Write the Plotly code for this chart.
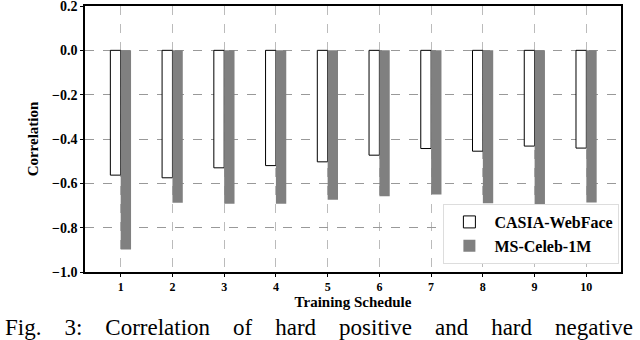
import plotly.graph_objects as go

schedules = [1, 2, 3, 4, 5, 6, 7, 8, 9, 10]
casia = [-0.563, -0.575, -0.530, -0.520, -0.503, -0.473, -0.443, -0.455, -0.432, -0.441]
msceleb = [-0.898, -0.688, -0.692, -0.692, -0.674, -0.658, -0.650, -0.690, -0.700, -0.686]
y_ticks = [0.2, 0.0, -0.2, -0.4, -0.6, -0.8, -1.0]

serif = "Liberation Serif, Times New Roman, serif"

fig = go.Figure()
fig.add_trace(go.Bar(
    x=schedules, y=casia, name="<b>CASIA-WebFace</b>",
    marker=dict(color="white", line=dict(color="black", width=1)),
))
fig.add_trace(go.Bar(
    x=schedules, y=msceleb, name="<b>MS-Celeb-1M</b>",
    marker=dict(color="#808080", line=dict(width=0)),
))

fig.update_layout(
    width=640, height=340,
    margin=dict(l=85, r=19, t=6, b=68),
    paper_bgcolor="white", plot_bgcolor="white",
    barmode="group", bargap=0.6, bargroupgap=0,
    font=dict(family=serif, color="black"),
    showlegend=True,
    legend=dict(
        x=0.997, y=0.03, xanchor="right", yanchor="bottom",
        bgcolor="white", bordercolor="#dddddd", borderwidth=1,
        font=dict(size=16, family=serif),
        tracegroupgap=2, itemwidth=40,
    ),
    xaxis=dict(
        range=[0.31, 10.67], automargin=False,
        tickmode="array", tickvals=schedules,
        ticktext=[f"<b>{s}</b>" for s in schedules],
        tickfont=dict(size=12, family=serif),
        showgrid=True, gridcolor="#bbbbbb", griddash="dash", gridwidth=1,
        showline=True, linecolor="black", linewidth=1.5, mirror=True,
        ticks="outside", ticklen=3, tickcolor="black",
        ticklabeloverflow="allow",
        title=dict(text="<b>Training Schedule</b>", font=dict(size=15, family=serif), standoff=0),
        zeroline=False,
    ),
    yaxis=dict(
        range=[-1.0, 0.2], automargin=False,
        tickmode="array", tickvals=y_ticks,
        ticktext=[f"<b>{'−' if v < 0 else ''}{abs(v):.1f}</b>" for v in y_ticks],
        tickfont=dict(size=14, family=serif),
        showgrid=True, gridcolor="#999999", griddash="dash", gridwidth=1,
        showline=True, linecolor="black", linewidth=1.5, mirror=True,
        ticks="outside", ticklen=3, tickcolor="black",
        ticklabeloverflow="allow",
        title=dict(text="<b>Correlation</b>", font=dict(size=15, family=serif), standoff=10),
        zeroline=False,
    ),
)

gap = "&nbsp;" * 4
caption_words = ["Fig.", "3:", "Correlation", "of", "hard", "positive", "and", "hard", "negative"]
fig.add_annotation(
    xref="paper", yref="paper", x=-0.153, y=-0.264,
    xanchor="left", yanchor="bottom", showarrow=False,
    text=gap.join(caption_words),
    font=dict(size=23, family=serif, color="black"),
)

fig.write_html(
    "out.html",
    config={"displayModeBar": False},
    post_script="document.body.style.margin='0';document.body.style.padding='0';",
)
